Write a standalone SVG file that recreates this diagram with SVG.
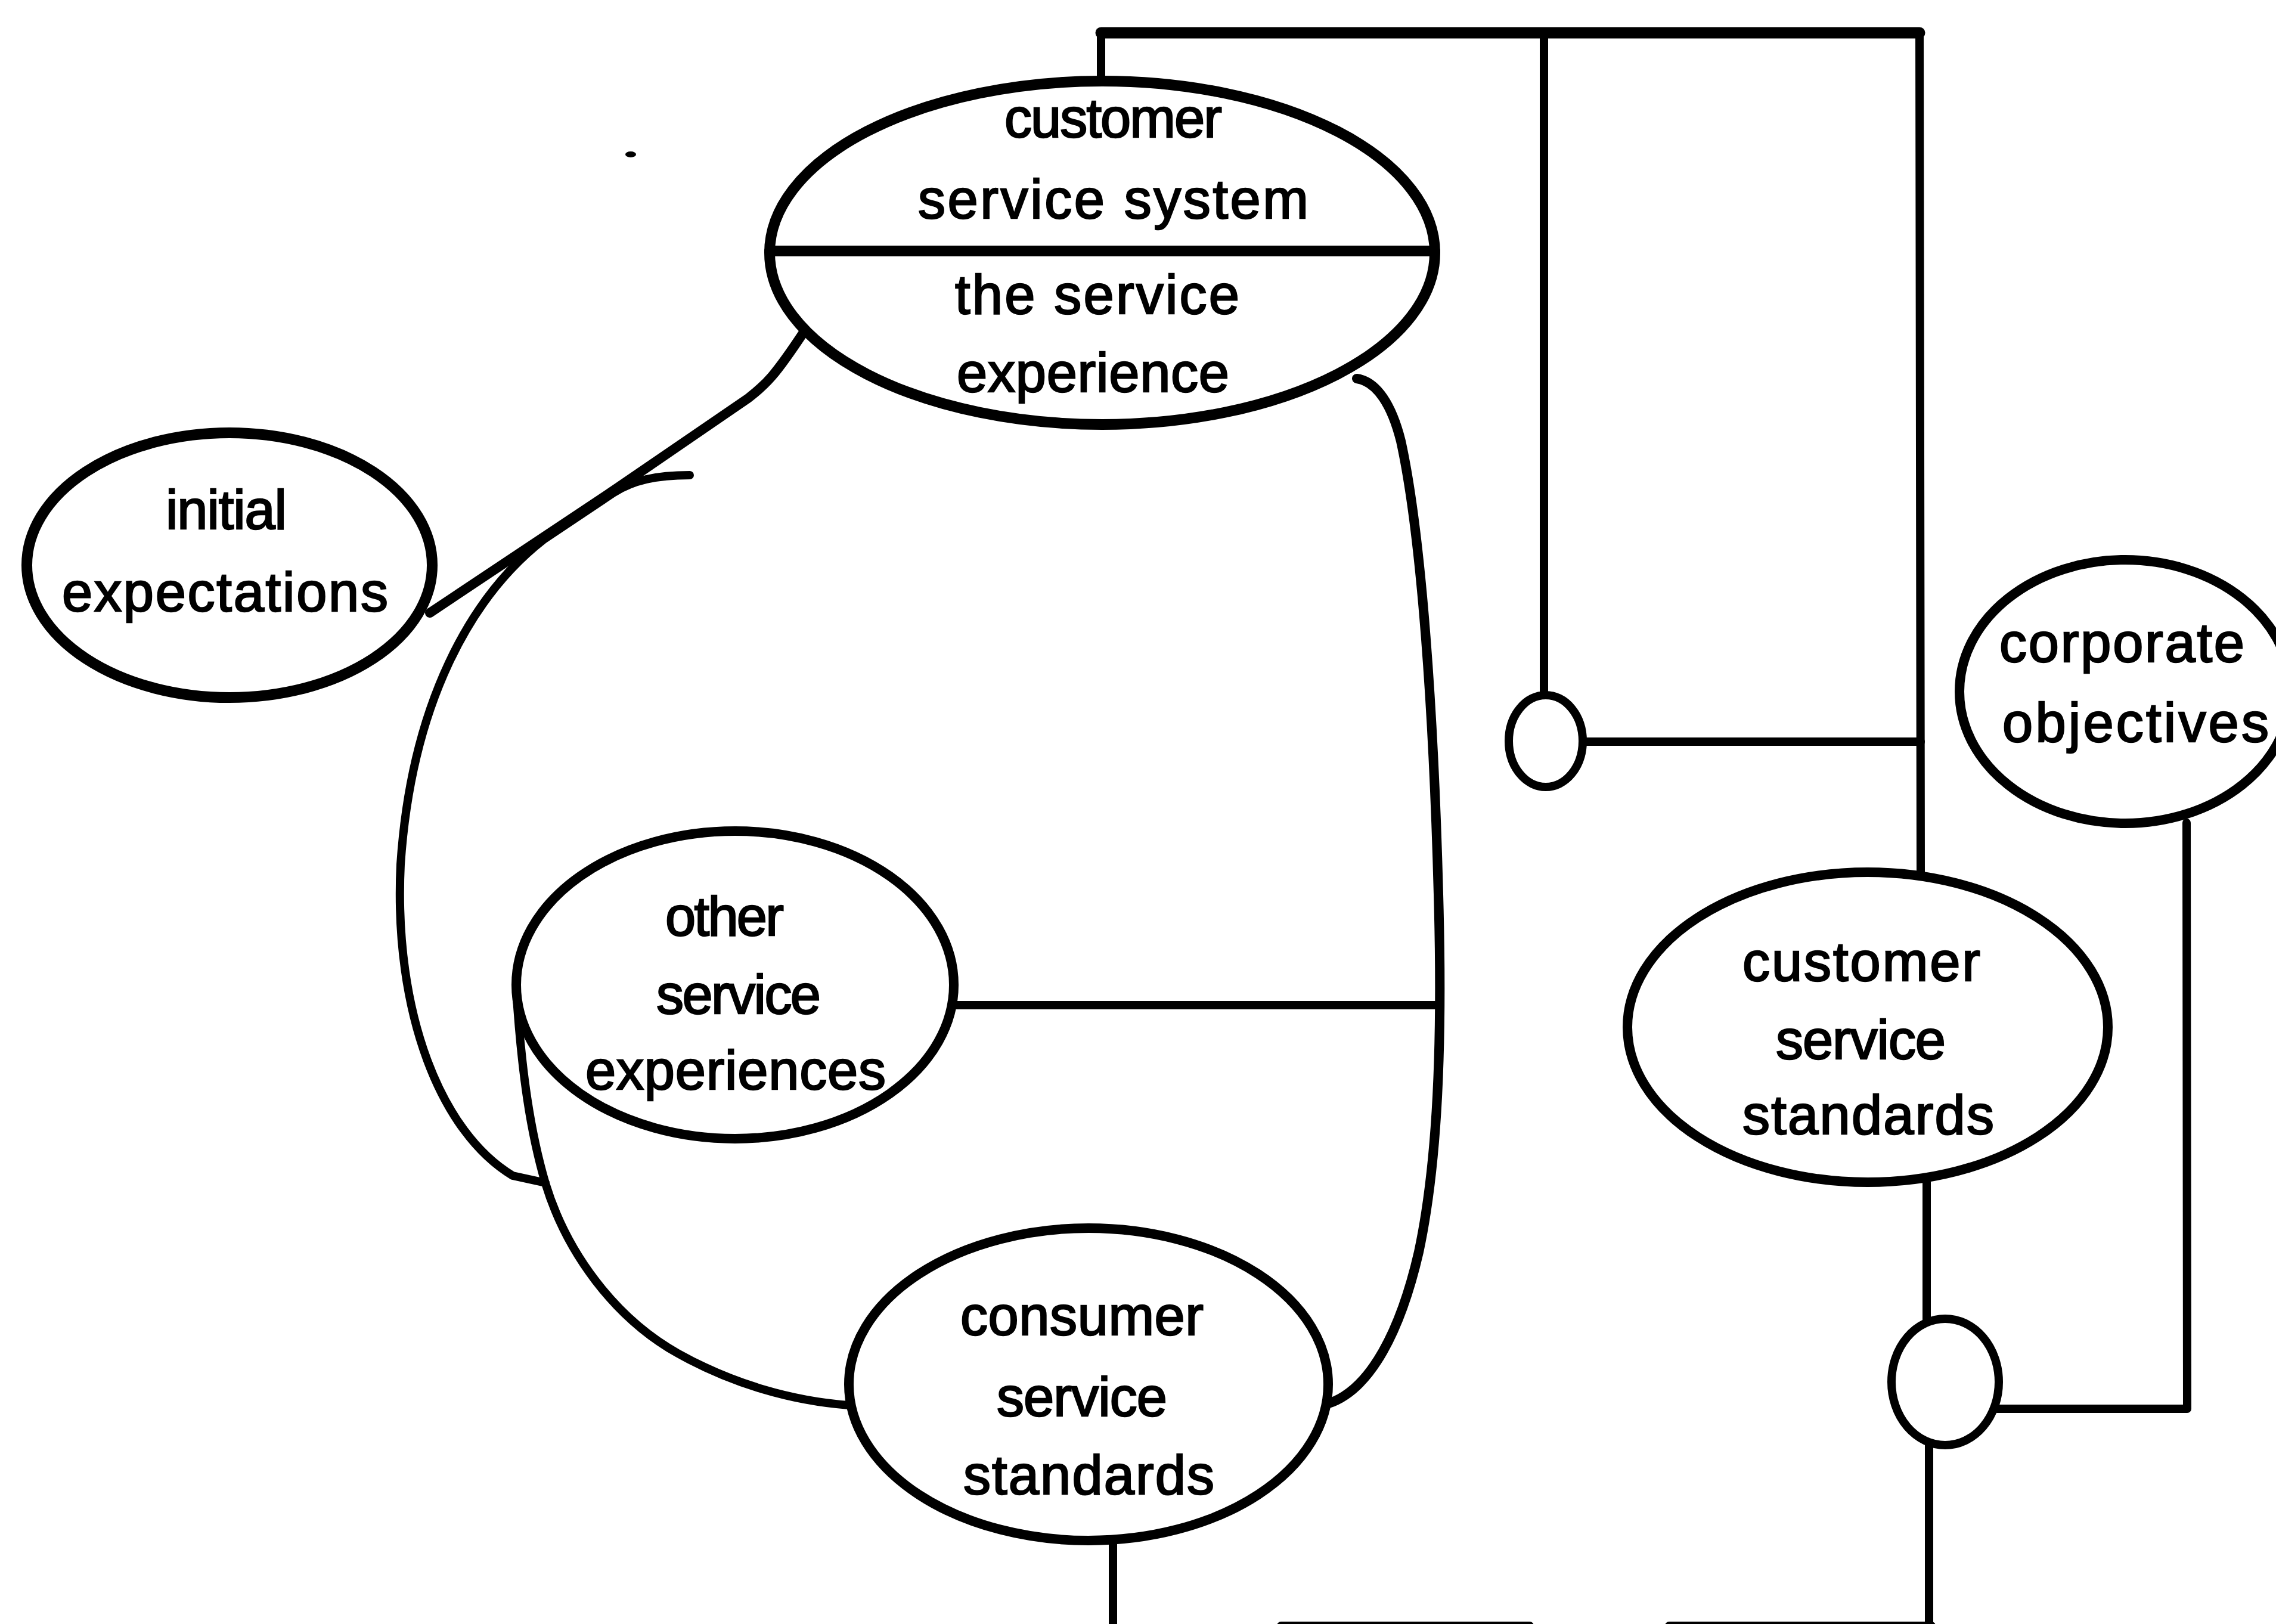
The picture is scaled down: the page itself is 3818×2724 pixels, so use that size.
<svg xmlns="http://www.w3.org/2000/svg" width="3818" height="2724" viewBox="0 0 3818 2724">
  <style>
    .shape { fill: #fff; stroke: #000; stroke-width: 16; }
    .junction { fill: #fff; stroke: #000; stroke-width: 14; }
    .wire { fill: none; stroke: #000; stroke-width: 14; stroke-linecap: round; stroke-linejoin: round; }
    .heavy { stroke-width: 19; }
    .label { font-family: "Liberation Sans", Arial, sans-serif; font-size: 92px; fill: #000; stroke: #000; stroke-width: 2.5; }
  </style>

  <rect x="0" y="0" width="3818" height="2724" fill="#fff"/>

  <!-- connectors -->
  <g id="connectors">
    <!-- frame above the service system -->
    <path class="wire" d="M1847,136 L1847,55"/>
    <path class="wire heavy" d="M1847,55 L3220,55"/>
    <path class="wire" d="M2590,55 L2590,1166"/>
    <path class="wire" d="M3220,55 L3222,1463"/>
    <path class="wire" d="M2655,1244 L3222,1244"/>
    <!-- initial expectations to service system -->
    <path class="wire" style="stroke-width:16" d="M721,1028 L1036,818 L1255,668 C1285,645 1300,630 1349,556"/>
    <!-- loop back from other experiences -->
    <path class="wire" d="M1157,797 C1100,797 1062,806 1030,826 L912,905 C790,1000 690,1180 672,1450 C660,1700 740,1900 860,1972 L915,1984"/>
    <!-- other experiences to consumer standards -->
    <path class="wire" d="M866,1660 C875,1800 890,1900 915,1985 C950,2100 1030,2210 1137,2270 C1230,2322 1330,2350 1424,2357"/>
    <!-- service experience to consumer standards -->
    <path class="wire" style="stroke-width:16" d="M2276,635 C2310,640 2335,680 2350,740 C2385,900 2405,1200 2413,1500 C2420,1750 2412,1950 2380,2100 C2350,2230 2300,2330 2229,2354"/>
    <path class="wire" d="M1601,1686 L2414,1686"/>
    <!-- consumer standards down to base line -->
    <path class="wire" d="M1867,2585 L1867,2730"/>
    <path class="wire" d="M2149,2727 L2566,2727"/>
    <path class="wire" d="M2800,2727 L3240,2727"/>
    <!-- customer standards through the lower junction -->
    <path class="wire" d="M3232,1983 L3232,2215"/>
    <path class="wire" d="M3236,2420 L3236,2730"/>
    <path class="wire" d="M3350,2363 L3669,2363 L3668,1380"/>
  </g>

  <!-- stray mark -->
  <ellipse cx="1058" cy="259" rx="9" ry="5" fill="#000"/>

  <g id="service-system">
    <ellipse class="shape" style="stroke-width:18" cx="1849" cy="424" rx="558" ry="288"/>
    <path class="wire" style="stroke-width:18" d="M1291,421 L2407,421"/>
    <text class="label" x="1685" y="230" textLength="365">customer</text>
    <text class="label" x="1540" y="366" textLength="655">service  system</text>
    <text class="label" x="1602" y="526" textLength="477">the  service</text>
    <text class="label" x="1605" y="657" textLength="457">experience</text>
  </g>

  <g id="initial-expectations">
    <ellipse class="shape" style="stroke-width:18" cx="385" cy="948" rx="340" ry="222"/>
    <text class="label" x="278" y="887" textLength="203">initial</text>
    <text class="label" x="104" y="1025" textLength="547">expectations</text>
  </g>

  <g id="other-experiences">
    <ellipse class="shape" cx="1233" cy="1652" rx="367" ry="258"/>
    <text class="label" x="1116" y="1569" textLength="199">other</text>
    <text class="label" x="1101" y="1700" textLength="276">service</text>
    <text class="label" x="982" y="1827" textLength="504">experiences</text>
  </g>

  <g id="consumer-standards">
    <ellipse class="shape" cx="1826" cy="2322" rx="402" ry="262"/>
    <text class="label" x="1611" y="2239" textLength="408">consumer</text>
    <text class="label" x="1672" y="2375" textLength="286">service</text>
    <text class="label" x="1616" y="2506" textLength="421">standards</text>
  </g>

  <g id="customer-standards">
    <ellipse class="shape" cx="3133" cy="1723" rx="403" ry="260"/>
    <text class="label" x="2923" y="1645" textLength="399">customer</text>
    <text class="label" x="2979" y="1776" textLength="285">service</text>
    <text class="label" x="2923" y="1902" textLength="422">standards</text>
  </g>

  <g id="corporate-objectives">
    <ellipse class="shape" cx="3565" cy="1160" rx="278" ry="221"/>
    <text class="label" x="3354" y="1110" textLength="411">corporate</text>
    <text class="label" x="3359" y="1244" textLength="447">objectives</text>
  </g>

  <g id="junction-upper">
    <ellipse class="junction" cx="2593" cy="1243" rx="62" ry="77"/>
  </g>

  <g id="junction-lower">
    <ellipse class="junction" cx="3263" cy="2318" rx="90" ry="106"/>
  </g>
</svg>
